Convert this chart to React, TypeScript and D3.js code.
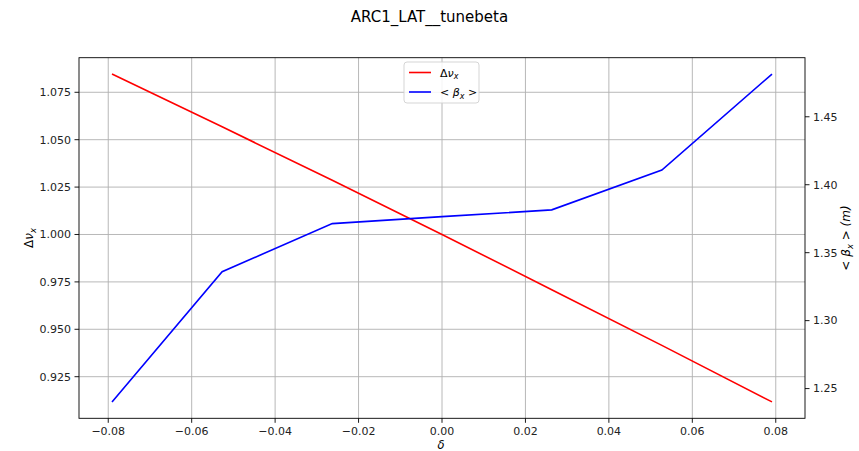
import React from "react";
import * as d3 from "d3";

const deltas = [-0.0791, -0.0527, -0.0263, 0.0, 0.0263, 0.0527, 0.0791];
const dnu = [1.0846, 1.0568, 1.0286, 1.0, 0.9709, 0.9415, 0.9117];
const betaX = [1.2402, 1.336, 1.3714, 1.3765, 1.3815, 1.4108, 1.4814];
const xTicks = [-0.08, -0.06, -0.04, -0.02, 0.0, 0.02, 0.04, 0.06, 0.08];
const yLTicks = [0.925, 0.95, 0.975, 1.0, 1.025, 1.05, 1.075];
const yRTicks = [1.25, 1.3, 1.35, 1.4, 1.45];
const title = "ARC1_LAT__tunebeta";

const W = 859, H = 451;
const L = 79, R = 805, T = 57.7, B = 418.3;
const FONT = "DejaVu Sans, sans-serif";

function padded(vals: number[]): [number, number] {
  const [a, b] = d3.extent(vals) as [number, number];
  const p = (b - a) * 0.05;
  return [a - p, b + p];
}

const fmtMinus = (s: string) => s.replace("-", "\u2212");

export default function App() {
  const x = d3.scaleLinear().domain(padded(deltas)).range([L, R]);
  const yL = d3.scaleLinear().domain(padded(dnu)).range([B, T]);
  const yR = d3.scaleLinear().domain(padded(betaX)).range([B, T]);
  const idx = deltas.map((_, i) => i);
  const redLine = d3.line<number>().x((i) => x(deltas[i])).y((i) => yL(dnu[i]))(idx) || "";
  const blueLine = d3.line<number>().x((i) => x(deltas[i])).y((i) => yR(betaX[i]))(idx) || "";
  const tc = "#222";
  return (
    <div style={{ position: "absolute", left: 0, top: 0 }}>
      <svg width={W} height={H} style={{ display: "block", background: "#fff" }} fontFamily={FONT}>
        <text x={429.5} y={22} fontSize={15} textAnchor="middle" fill="#000">{title}</text>
        {/* grid */}
        {xTicks.map((t) => (
          <line key={"gx" + t} x1={x(t)} x2={x(t)} y1={T} y2={B} stroke="#b0b0b0" strokeWidth={0.9} />
        ))}
        {yLTicks.map((t) => (
          <line key={"gy" + t} x1={L} x2={R} y1={yL(t)} y2={yL(t)} stroke="#b0b0b0" strokeWidth={0.9} />
        ))}
        {/* lines */}
        <path d={redLine} fill="none" stroke="#ff0000" strokeWidth={1.6} />
        <path d={blueLine} fill="none" stroke="#0000ff" strokeWidth={1.6} />
        {/* spines */}
        <rect x={L} y={T} width={R - L} height={B - T} fill="none" stroke="#000" strokeWidth={0.9} />
        {/* x ticks */}
        {xTicks.map((t) => (
          <g key={"xt" + t}>
            <line x1={x(t)} x2={x(t)} y1={B} y2={B + 4.5} stroke="#000" strokeWidth={0.9} />
            <text x={x(t)} y={B + 16.5} fontSize={11} textAnchor="middle" fill={tc}>
              {fmtMinus(d3.format(".2f")(t))}
            </text>
          </g>
        ))}
        {yLTicks.map((t) => (
          <g key={"yl" + t}>
            <line x1={L - 4.5} x2={L} y1={yL(t)} y2={yL(t)} stroke="#000" strokeWidth={0.9} />
            <text x={L - 8} y={yL(t)} dy="0.35em" fontSize={11} textAnchor="end" fill={tc}>
              {d3.format(".3f")(t)}
            </text>
          </g>
        ))}
        {yRTicks.map((t) => (
          <g key={"yr" + t}>
            <line x1={R} x2={R + 4.5} y1={yR(t)} y2={yR(t)} stroke="#000" strokeWidth={0.9} />
            <text x={R + 8} y={yR(t)} dy="0.35em" fontSize={11} textAnchor="start" fill={tc}>
              {d3.format(".2f")(t)}
            </text>
          </g>
        ))}
        {/* axis labels */}
        <text x={441} y={448.5} fontSize={11.5} textAnchor="middle" fontStyle="italic" fill="#000">δ</text>
        <text transform={`translate(33,${(T + B) / 2}) rotate(-90)`} fontSize={12} textAnchor="middle" fill="#000">
          Δ<tspan fontStyle="italic">ν</tspan>
          <tspan fontStyle="italic" fontSize={8.5} dy={3}>x</tspan>
        </text>
        <text transform={`translate(850,${(T + B) / 2}) rotate(-90)`} fontSize={12} textAnchor="middle" fill="#000">
          {"< "}<tspan fontStyle="italic">β</tspan>
          <tspan fontStyle="italic" fontSize={8.5} dy={3}>x</tspan>
          <tspan dy={-3}>{" > "}</tspan>
          <tspan fontStyle="italic">(m)</tspan>
        </text>
        {/* legend */}
        <g>
          <rect x={404} y={62} width={75} height={41} rx={3} fill="#fff" fillOpacity={0.85} stroke="#d0d0d0" strokeWidth={0.9} />
          <line x1={409} x2={431} y1={72.5} y2={72.5} stroke="#ff0000" strokeWidth={1.6} />
          <text x={440} y={76.5} fontSize={11} fill="#000">
            Δ<tspan fontStyle="italic">ν</tspan>
            <tspan fontStyle="italic" fontSize={8} dy={2.5}>x</tspan>
          </text>
          <line x1={409} x2={431} y1={92} y2={92} stroke="#0000ff" strokeWidth={1.6} />
          <text x={440} y={96} fontSize={11} fill="#000">
            {"< "}<tspan fontStyle="italic">β</tspan>
            <tspan fontStyle="italic" fontSize={8} dy={2.5}>x</tspan>
            <tspan dy={-2.5}>{" >"}</tspan>
          </text>
        </g>
      </svg>
    </div>
  );
}
